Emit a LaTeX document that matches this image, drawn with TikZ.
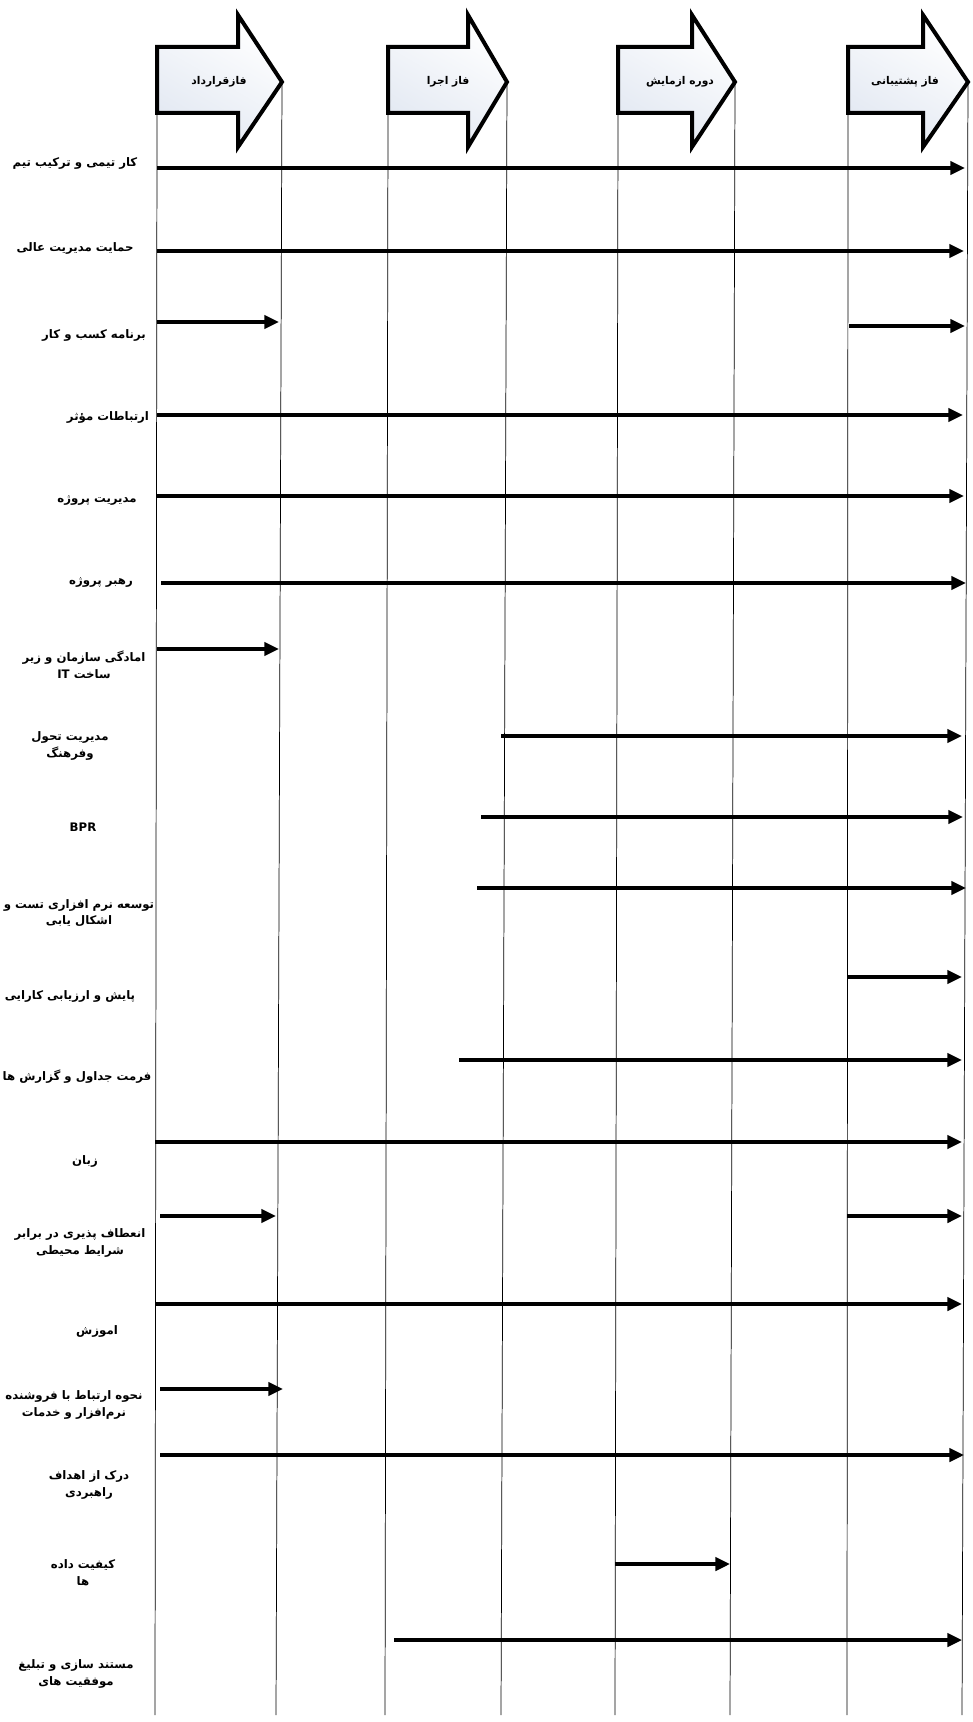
\documentclass[tikz,border=0pt]{standalone}
\usepackage{fontspec}
\usetikzlibrary{arrows.meta}
\newfontfamily\fa[Script=Arabic]{DejaVu Sans}
\TeXXeTstate=1
\tikzset{
  phase/.style={draw=black, line width=3pt, line join=miter, top color=white, bottom color={rgb,255:red,226;green,232;blue,242}, shading angle=-30},
  phasetext/.style={font=\fa\bfseries\fontsize{8}{9}\selectfont, inner sep=0pt},
  vline/.style={line width=0.55pt, draw=black},
  flow/.style={line width=2.5pt, -{Triangle[length=11pt,width=10pt]}},
  lab/.style={font=\fa\bfseries\fontsize{8.8}{12.5}\selectfont, align=center, inner sep=0pt}
}
\newcommand{\R}[1]{\beginR #1\endR}
\begin{document}
\begin{tikzpicture}[x=0.75pt,y=-0.75pt]
\useasboundingbox (0,0) rectangle (972,1722);
\fill[white] (0,0) rectangle (972,1722);
% phase arrows
\foreach \l/\b/\t/\n in {157/238/282/a, 388/468/507/b, 618/692/735/c, 848/923/968/d}{
  \draw[phase] (\l,47) -- (\b,47) -- (\b,15) -- (\t,82) -- (\b,147) -- (\b,113) -- (\l,113) -- cycle;
  \coordinate (\n L) at (\l,113);
  \coordinate (\n T) at (\t,82);
}
\node[phasetext] (pa) at (219,82) {\R{فازقرارداد}};
\node[phasetext] (pb) at (448,82) {\R{فاز اجرا}};
\node[phasetext] (pc) at (680,82) {\R{دوره  ازمایش}};
\node[phasetext] (pd) at (905,82) {\R{فاز پشتیبانی}};
% vertical lines
\coordinate (aLb) at (155,1715);
\coordinate (aTb) at (276,1715);
\coordinate (bLb) at (385,1715);
\coordinate (bTb) at (501,1715);
\coordinate (cLb) at (615,1715);
\coordinate (cTb) at (730,1715);
\coordinate (dLb) at (847,1715);
\coordinate (dTb) at (962,1715);
\draw[vline] (aL) -- (aLb);
\draw[vline] (aT) -- (aTb);
\draw[vline] (bL) -- (bLb);
\draw[vline] (bT) -- (bTb);
\draw[vline] (cL) -- (cLb);
\draw[vline] (cT) -- (cTb);
\draw[vline] (dL) -- (dLb);
\draw[vline] (dT) -- (dTb);
% labels
\node[lab] (l1) at (75,163) {\R{کار تیمی و ترکیب تیم}};
\node[lab] (l2) at (75,248) {\R{حمایت مدیریت عالی}};
\node[lab] (l3) at (94,335) {\R{برنامه کسب و کار}};
\node[lab] (l4) at (108,417) {\R{ارتباطات مؤثر}};
\node[lab] (l5) at (97,500) {\R{مدیریت پروژه}};
\node[lab] (l6) at (101,582) {\R{رهبر پروژه}};
\node[lab] (l7) at (84,665) {\R{امادگی سازمان و زیر}\\\R{ساخت \beginL IT\endL}};
\node[lab] (l8) at (70,746) {\R{مدیریت تحول}\\\R{وفرهنگ}};
\node[lab] (l9) at (83,827) {BPR};
\node[lab] (l10) at (79,913) {\R{توسعه نرم افزاری  تست و}\\\R{اشکال یابی}};
\node[lab] (l11) at (70,996) {\R{پایش و ارزیابی کارایی}};
\node[lab] (l12) at (77,1077) {\R{فرمت جداول و گزارش ها}};
\node[lab] (l13) at (85,1161) {\R{زبان}};
\node[lab] (l14) at (80,1243) {\R{انعطاف پذیری در برابر}\\\R{شرایط محیطی}};
\node[lab] (l15) at (97,1331) {\R{اموزش}};
\node[lab] (l16) at (74,1405) {\R{نحوه ارتباط با فروشنده}\\\R{نرم‌افزار و خدمات}};
\node[lab] (l17) at (89,1485) {\R{درک از اهداف}\\\R{راهبردی}};
\node[lab] (l18) at (83,1573) {\R{کیفیت  داده}\\\R{ها}};
\node[lab] (l19) at (76,1674) {\R{مستند سازی و تبلیغ}\\\R{موفقیت های}};
% flow arrows
\foreach \n/\xa/\xb/\y in {
  f1/157/965/168, f2/157/964/251, f3a/157/279/322, f3b/849/965/326,
  f4/157/963/415, f5/157/964/496, f6/161/966/583, f7/157/279/649,
  f8/501/962/736, f9/481/963/817, f10/477/966/888, f11/847/962/977,
  f12/459/962/1060, f13/155/962/1142, f14a/160/276/1216, f14b/847/962/1216,
  f15/155/962/1304, f16/160/283/1389, f17/160/964/1455, f18/615/730/1564,
  f19/394/962/1640}{
  \coordinate (\n s) at (\xa,\y);
  \coordinate (\n e) at (\xb,\y);
  \draw[flow] (\n s) -- (\n e);
}
\end{tikzpicture}
\end{document}
